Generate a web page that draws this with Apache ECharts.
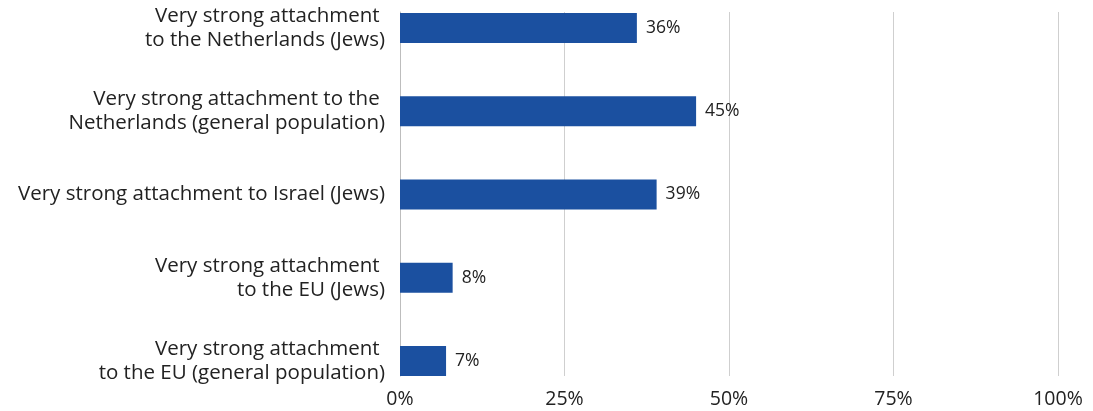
<!DOCTYPE html>
<html>
<head>
<meta charset="utf-8">
<script src="https://cdn.jsdelivr.net/npm/echarts@6/dist/echarts.min.js"></script>
<style>
html,body{margin:0;padding:0;background:#fff;}
#chart{width:1093px;height:411px;}
</style>
</head>
<body>
<div id="chart"></div>
<script>
const categories = [
  "Very strong attachment \nto the Netherlands (Jews)",
  "Very strong attachment to the \nNetherlands (general population)",
  "Very strong attachment to Israel (Jews)",
  "Very strong attachment \nto the EU (Jews)",
  "Very strong attachment \nto the EU (general population)"
];
const values = [36, 45, 39, 8, 7];
const xTicks = { min: 0, max: 100, interval: 25 };

const FONT = "'Open Sans', sans-serif";
const chart = echarts.init(document.getElementById('chart'));
chart.setOption({
  animation: false,
  grid: [
    { left: 400, right: 35, top: 12, bottom: 35 },
    { left: 400, right: 35, top: 28, height: 333 }
  ],
  xAxis: [
    {
      gridIndex: 0, type: 'value', min: xTicks.min, max: xTicks.max, interval: xTicks.interval,
      axisLine: { show: false }, axisTick: { show: false },
      splitLine: { show: true, lineStyle: { color: '#cfcfcf', width: 1 } },
      axisLabel: { formatter: '{value}%', fontFamily: FONT, fontSize: 19.5, color: '#222', margin: 13 }
    },
    {
      gridIndex: 1, type: 'value', min: xTicks.min, max: xTicks.max, show: false
    }
  ],
  yAxis: [
    {
      gridIndex: 0, type: 'value', min: 0, max: 1,
      axisLine: { show: true, lineStyle: { color: '#bdbdbd', width: 1 } },
      axisTick: { show: false }, axisLabel: { show: false }, splitLine: { show: false }
    },
    {
      gridIndex: 1, type: 'category', data: categories, inverse: true, boundaryGap: false,
      axisLine: { show: false }, axisTick: { show: false }, splitLine: { show: false },
      axisLabel: { fontFamily: FONT, fontSize: 20.5, color: '#222', margin: 15, lineHeight: 24, align: 'right' }
    }
  ],
  series: [
    {
      type: 'bar', xAxisIndex: 1, yAxisIndex: 1, data: values, barWidth: 30,
      itemStyle: { color: '#1b50a0' },
      label: { show: true, position: 'right', distance: 9, formatter: '{c}%', fontFamily: FONT, fontSize: 17.5, color: '#222' }
    }
  ]
});
</script>
</body>
</html>
